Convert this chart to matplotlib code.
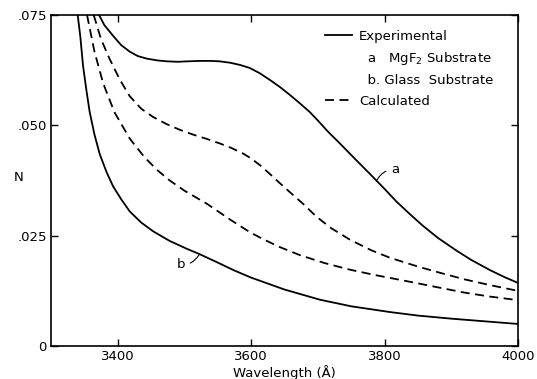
import matplotlib.pyplot as plt
from matplotlib.lines import Line2D

# curve a : experimental, MgF2 substrate
wl_a = [3372, 3380, 3393, 3405, 3418, 3430, 3444, 3460, 3474, 3490, 3504, 3523,
        3540, 3553, 3568, 3583, 3598, 3613, 3628, 3643, 3658, 3673, 3688, 3700,
        3715, 3733, 3755, 3778, 3800, 3818, 3840, 3857, 3880, 3908, 3930, 3958,
        3980, 4000]
n_a = [0.075, 0.0727, 0.0703, 0.0682, 0.0667, 0.0657, 0.0651, 0.0647, 0.0645, 0.0644, 0.0645, 0.0646,
       0.0646, 0.0645, 0.0642, 0.0637, 0.0630, 0.0618, 0.0603, 0.0587, 0.0569, 0.0550, 0.0530, 0.0511,
       0.0486, 0.0459, 0.0425, 0.0390, 0.0356, 0.0327, 0.0296, 0.0273, 0.0245, 0.0216, 0.0195, 0.0172,
       0.0156, 0.0143]

# curve b : experimental, glass substrate
wl_b = [3340, 3344, 3348, 3353, 3358, 3365, 3373, 3383, 3393, 3405, 3418, 3435,
        3453, 3478, 3504, 3523, 3550, 3575, 3600, 3650, 3703, 3750, 3808, 3850,
        3900, 3950, 4000]
n_b = [0.075, 0.0700, 0.0635, 0.0580, 0.0530, 0.0480, 0.0435, 0.0395, 0.0362, 0.0333, 0.0305, 0.0280,
       0.0260, 0.0238, 0.0220, 0.0208, 0.0189, 0.0171, 0.0155, 0.0128, 0.0105, 0.0090, 0.0077, 0.0069,
       0.0062, 0.0056, 0.0050]

# calculated (upper)
wl_c1 = [3364, 3375, 3388, 3403, 3418, 3435, 3453, 3473, 3493, 3513, 3534, 3553,
         3570, 3588, 3600, 3613, 3628, 3643, 3660, 3678, 3698, 3720, 3748, 3780,
         3808, 3850, 3883, 3920, 3958, 4000]
n_c1 = [0.075, 0.0695, 0.0650, 0.0604, 0.0566, 0.0538, 0.0519, 0.0503, 0.0490, 0.0479, 0.0469, 0.0459,
        0.0449, 0.0436, 0.0425, 0.0410, 0.0390, 0.0369, 0.0346, 0.0322, 0.0293, 0.0267, 0.0241, 0.0217,
        0.0200, 0.0180, 0.0166, 0.0151, 0.0138, 0.0125]

# calculated (lower)
wl_c2 = [3354, 3365, 3378, 3395, 3418, 3440, 3459, 3478, 3500, 3534, 3570, 3598,
         3613, 3640, 3673, 3710, 3748, 3785, 3823, 3850, 3883, 3920, 3958, 4000]
n_c2 = [0.075, 0.0668, 0.0596, 0.0530, 0.0470, 0.0428, 0.0399, 0.0375, 0.0352, 0.0322, 0.0285, 0.0258,
        0.0246, 0.0226, 0.0206, 0.0188, 0.0173, 0.0161, 0.0150, 0.0142, 0.0132, 0.0121, 0.0112, 0.0104]

xticks = [3400, 3600, 3800, 4000]
yticks = [0, 0.025, 0.050, 0.075]
ylabels = ["0", ".025", ".050", ".075"]

plt.rcParams['font.family'] = 'DejaVu Sans'
plt.rcParams['font.size'] = 9.5

fig = plt.figure(figsize=(5.37, 3.79), dpi=100)
ax = fig.add_axes([0.095, 0.087, 0.8696, 0.8734])

lw = 1.3
ax.plot(wl_a, n_a, color="black", lw=lw)
ax.plot(wl_b, n_b, color="black", lw=lw)
ax.plot(wl_c1, n_c1, color="black", lw=lw, dashes=(5, 3))
ax.plot(wl_c2, n_c2, color="black", lw=lw, dashes=(5, 3))

ax.set_xlim(3300, 4000)
ax.set_ylim(0, 0.075)
ax.set_xticks(xticks)
ax.set_xticklabels([str(t) for t in xticks])
ax.set_yticks(yticks)
ax.set_yticklabels(ylabels)
ax.tick_params(direction="in", length=5, width=1, top=True, right=True, pad=3)
for s in ax.spines.values():
    s.set_linewidth(1.2)

ax.set_xlabel("Wavelength (Å)", labelpad=1)
ax.set_ylabel("N", rotation=0)
ax.yaxis.set_label_coords(-0.07, 0.49)

# curve labels
ax.annotate("a", xy=(3788, 0.0374), xytext=(3810, 0.0401), va="center",
            arrowprops=dict(arrowstyle="-", lw=0.8, color="black",
                            connectionstyle="arc3,rad=0.3", shrinkA=2, shrinkB=0))
ax.annotate("b", xy=(3522, 0.0207), xytext=(3488, 0.0184), va="center",
            arrowprops=dict(arrowstyle="-", lw=0.8, color="black",
                            connectionstyle="arc3,rad=0.3", shrinkA=2, shrinkB=0))

handles = [Line2D([], [], color="black", lw=lw),
           Line2D([], [], color="none"),
           Line2D([], [], color="none"),
           Line2D([], [], color="black", lw=lw, dashes=(5, 3))]
labels = ["Experimental", "  a   MgF$_2$ Substrate", "  b. Glass  Substrate", "Calculated"]
ax.legend(handles, labels, loc="upper left", bbox_to_anchor=(0.587, 0.955),
          frameon=False, borderpad=0, borderaxespad=0, handlelength=2.05,
          handletextpad=0.5, labelspacing=0.55)

fig.savefig("out.png", dpi=100)
